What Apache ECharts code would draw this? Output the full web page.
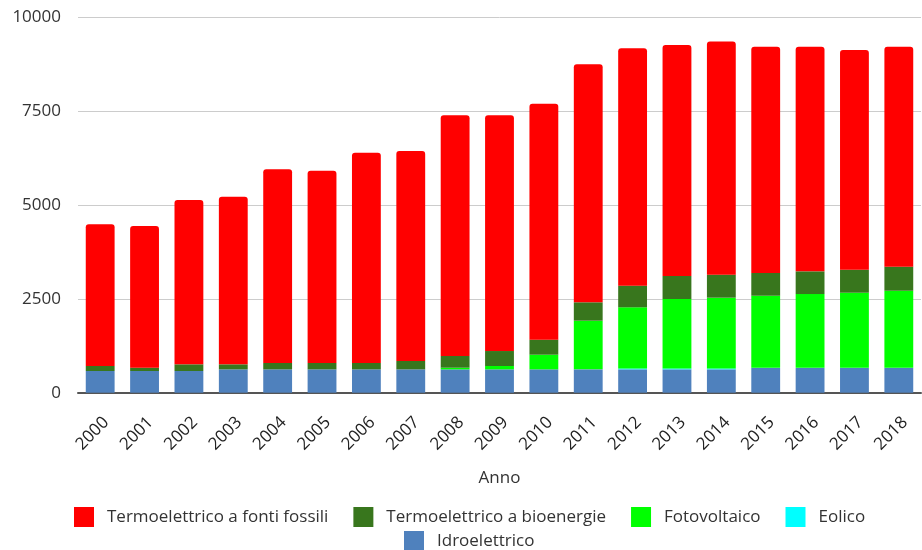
<!DOCTYPE html>
<html>
<head>
<meta charset="utf-8">
<script src="https://cdn.jsdelivr.net/npm/echarts@6/dist/echarts.min.js"></script>
<style>
html,body{margin:0;padding:0;background:#fff;}
#chart{width:922px;height:550px;}
</style>
</head>
<body>
<div id="chart"></div>
<script>
const years = ['2000','2001','2002','2003','2004','2005','2006','2007','2008','2009','2010','2011','2012','2013','2014','2015','2016','2017','2018'];
const idroelettrico = [578,578,578,622,622,622,622,622,622,622,622,622,622,622,622,660,660,660,660];
const eolico = [0,0,0,0,0,0,0,0,0,0,0,0,25,25,25,5,5,5,5];
const fotovoltaico = [0,0,0,0,0,0,0,0,44,89,390,1296,1628,1849,1884,1918,1963,1998,2051];
const bioenergie = [133,88,178,134,169,169,169,222,311,399,400,490,576,613,613,605,605,613,640];
const fossili = [3775,3775,4377,4466,5159,5123,5603,5595,6413,6280,6288,6341,6324,6155,6209,6030,5985,5853,5862];
const yTicks = [0,2500,5000,7500,10000];

const font = 'Open Sans';
const chart = echarts.init(document.getElementById('chart'), null, {renderer:'canvas'});

function bar(name, data, color, top){
  return {
    name: name, type: 'bar', stack: 'tot', data: data, barWidth: '65%',
    itemStyle: {color: color, borderRadius: top ? [3,3,0,0] : 0},
    emphasis: {disabled: true}
  };
}

const legendText = {fontFamily: font, fontSize: 17, color: '#333', padding: [0,0,0,8]};

chart.setOption({
  animation: false,
  backgroundColor: '#fff',
  textStyle: {fontFamily: font},
  grid: {left: 78, right: 1, top: 17.3, bottom: 157.3, containLabel: false},
  xAxis: {
    type: 'category', data: years,
    name: 'Anno', nameLocation: 'middle', nameGap: 77,
    nameTextStyle: {fontFamily: font, fontSize: 17, color: '#333'},
    axisLine: {lineStyle: {color: '#555', width: 2}},
    axisTick: {show: false},
    axisLabel: {rotate: 45, fontFamily: font, fontSize: 17, color: '#222', margin: 21, interval: 0, verticalAlign: 'top'}
  },
  yAxis: {
    type: 'value', min: yTicks[0], max: yTicks[yTicks.length-1], interval: 2500,
    axisLine: {show: false}, axisTick: {show: false},
    axisLabel: {fontFamily: font, fontSize: 17, color: '#333', margin: 17, formatter: v => String(v)},
    splitLine: {lineStyle: {color: '#ccc', width: 1}}
  },
  legend: [
    {
      data: ['Termoelettrico a fonti fossili','Termoelettrico a bioenergie','Fotovoltaico','Eolico'],
      left: 74, top: 507, padding: 0, itemWidth: 20, itemHeight: 20, itemGap: 25,
      icon: 'rect',
      textStyle: legendText
    },
    {
      data: ['Idroelettrico'],
      left: 404, top: 531, padding: 0, itemWidth: 20, itemHeight: 20,
      icon: 'rect',
      textStyle: legendText
    }
  ],
  series: [
    bar('Idroelettrico', idroelettrico, '#4f81bd', false),
    bar('Eolico', eolico, '#00ffff', false),
    bar('Fotovoltaico', fotovoltaico, '#00ff00', false),
    bar('Termoelettrico a bioenergie', bioenergie, '#38761d', false),
    bar('Termoelettrico a fonti fossili', fossili, '#ff0000', true)
  ]
});
</script>
</body>
</html>
